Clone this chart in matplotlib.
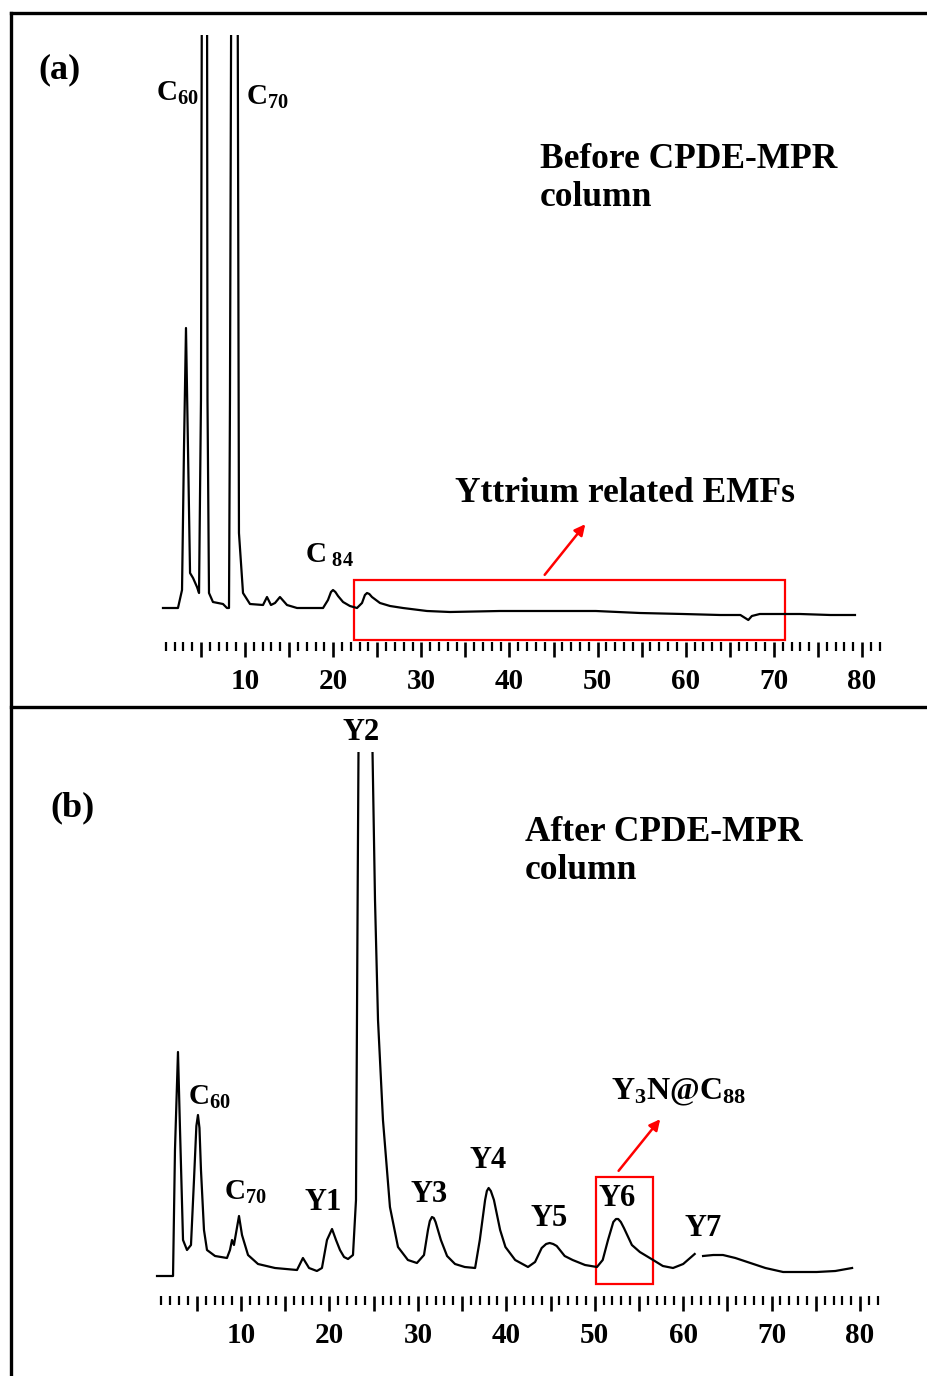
import matplotlib
matplotlib.use('Agg')
import matplotlib.pyplot as plt
from matplotlib.lines import Line2D
from matplotlib.patches import Rectangle
from matplotlib.ticker import FixedLocator, FixedFormatter
import numpy as np

# ---- data (time in min, detector signal in a.u.)
# off-scale tops of the big peaks are given above the plotted range
time_a = [0.69, 2.39, 2.85, 3.07, 3.30, 3.53, 3.76, 4.10, 4.55, 4.78, 5.00, 5.12, 5.40, 5.68,
          5.74, 5.91, 6.36, 7.50, 7.95, 8.18, 8.29, 8.46, 8.80, 9.14, 9.31, 9.77, 10.56, 12.04,
          12.49, 12.94, 13.40, 13.96, 14.76, 15.90, 18.85, 19.41, 19.75, 19.98, 20.25, 20.55,
          21.12, 21.90, 22.70, 23.27, 23.60, 23.84, 24.10, 24.40, 25.31, 26.45, 27.92, 30.64,
          33.25, 38.90, 44.60, 49.80, 54.80, 59.70, 63.90, 66.20, 67.10, 67.50, 68.40, 72.96,
          76.40, 79.20]
signal_a = [-1, -1, 17, 157, 279, 157, 34, 29, 20, 14, 207, 700, 1000, 700,
            207, 14, 5, 3, -1, -1, 207, 700, 1000, 700, 74, 14, 3, 2,
            10, 2, 4, 10, 2, -1, -1, 7, 15, 17, 15, 11,
            5, 1, -1, 4, 12, 14, 13, 10, 4, 1, -1, -4,
            -5, -4, -4, -4, -6, -7, -8, -8, -13, -9, -7, -7,
            -8, -8]

time_b = [0.50, 2.19, 2.31, 2.53, 2.87, 3.10, 3.44, 3.89, 4.34, 4.68, 4.95, 5.13, 5.30, 5.47,
          5.81, 6.15, 7.06, 8.41, 8.75, 8.98, 9.20, 9.77, 10.11, 10.79, 11.92, 13.84, 16.33,
          17.00, 17.69, 18.58, 19.15, 19.72, 20.29, 20.74, 21.19, 21.65, 22.10, 22.66, 23.00,
          23.20, 23.40, 24.00, 24.60, 24.80, 25.15, 25.49, 26.05, 26.84, 27.75, 28.87, 29.89,
          30.69, 31.14, 31.35, 31.59, 31.80, 32.00, 32.60, 33.30, 34.20, 35.30, 36.47, 37.00,
          37.60, 37.80, 38.00, 38.25, 38.60, 39.30, 39.90, 41.00, 42.45, 43.25, 44.00, 44.50,
          44.90, 45.30, 45.70, 46.60, 47.50, 48.90, 50.25, 50.90, 51.50, 52.10, 52.40, 52.65,
          52.95, 53.30, 54.20, 55.10, 56.60, 57.70, 58.85, 60.00, 61.30, 61.80, 62.25, 63.40,
          64.50, 65.90, 67.60, 69.30, 71.30, 75.10, 77.20, 79.10]
signal_b = [0, 0, 0, 126, 224, 146, 36, 26, 31, 96, 150, 161, 148, 106,
            46, 26, 20, 18, 26, 36, 31, 60, 41, 21, 12, 8, 6,
            18, 8, 5, 8, 36, 47, 36, 26, 19, 17, 21, 76,
            400, 700, 1000, 700, 560, 376, 256, 156, 69, 29, 16, 13,
            21, 46, 55, 59, 58, 54, 36, 20, 12, 9, 8, 36,
            76, 85, 88, 85, 76, 46, 29, 16, 9, 14, 28, 32,
            33, 32, 30, 20, 16, 11, 9, 16, 36, 54, 57, 57,
            54, 48, 31, 24, 16, 10, 8, 12, 22, np.nan, 20, 21,
            21, 18, 13, 8, 4, 4, 5, 8]

major_ticks = list(range(5, 81, 5))
tick_labels = [str(t) if t % 10 == 0 else '' for t in major_ticks]
minor_ticks = list(range(1, 83))

plt.rcParams['font.family'] = ['Liberation Serif', 'DejaVu Serif']
plt.rcParams['font.weight'] = 'bold'
plt.rcParams['mathtext.fontset'] = 'custom'
plt.rcParams['mathtext.rm'] = 'Liberation Serif:bold'
plt.rcParams['mathtext.bf'] = 'Liberation Serif:bold'
plt.rcParams['mathtext.it'] = 'Liberation Serif:bold'

W, H = 927, 1376
fig = plt.figure(figsize=(W / 100, H / 100), dpi=100)


def fx(px):
    return px / W


def fy(py):
    return 1 - py / H


def style(ax, ylim):
    ax.set_xlim(0, 82.5)
    ax.set_ylim(ylim)
    for s in ax.spines.values():
        s.set_visible(False)
    ax.set_yticks([])
    ax.xaxis.set_major_locator(FixedLocator(major_ticks))
    ax.xaxis.set_major_formatter(FixedFormatter(tick_labels))
    ax.xaxis.set_minor_locator(FixedLocator(minor_ticks))
    ax.tick_params(axis='x', which='major', length=11, width=1.9, direction='out',
                   pad=8, labelsize=21, color='black')
    ax.tick_params(axis='x', which='minor', length=6.5, width=1.6, direction='out')
    for lab in ax.get_xticklabels():
        lab.set_fontweight('bold')


ax_a = fig.add_axes([fx(156.9), fy(642), 82.5 * 8.814 / W, (642 - 35) / H])
ax_b = fig.add_axes([fx(152.6), fy(1296), 82.5 * 8.843 / W, (1296 - 752) / H])

# ---- panel (a)
style(ax_a, (-35, 572))
ax_a.plot(time_a, signal_a, color='black', lw=1.6)
ax_a.add_patch(Rectangle((22.36, -33), 48.9, 60, fill=False, ec='red', lw=1.6))
ax_a.annotate('', xy=(48.8, 85), xytext=(43.8, 30),
              arrowprops=dict(arrowstyle='-|>', color='red', lw=1.8, mutation_scale=16))
ax_a.text(2.3, 514, r'$\mathbf{C_{60}}$', fontsize=21, ha='center', va='center')
ax_a.text(12.5, 510, r'$\mathbf{C_{70}}$', fontsize=21, ha='center', va='center')
ax_a.text(19.6, 52, r'$\mathbf{C_{\ 84}}$', fontsize=21, ha='center', va='center')
ax_a.text(53.1, 114, 'Yttrium related EMFs', fontsize=25.5, fontweight='bold',
          ha='center', va='center')

# ---- panel (b)
style(ax_b, (-20, 524))
ax_b.plot(time_b, signal_b, color='black', lw=1.6)
ax_b.add_patch(Rectangle((50.14, -8), 6.46, 107, fill=False, ec='red', lw=1.6))
ax_b.annotate('', xy=(57.6, 159), xytext=(52.5, 103),
              arrowprops=dict(arrowstyle='-|>', color='red', lw=1.8, mutation_scale=16))
peak_names = ['Y1', 'Y2', 'Y3', 'Y4', 'Y5', 'Y6', 'Y7']
peak_t = [19.25, 23.6, 31.26, 37.9, 44.8, 52.5, 62.2]
peak_s = [74, 544, 82, 116, 58, 77, 48]
for name, t, s in zip(peak_names, peak_t, peak_s):
    ax_b.text(t, s, name, fontsize=22, fontweight='bold', ha='center', va='center')
ax_b.text(6.4, 179, r'$\mathbf{C_{60}}$', fontsize=21, ha='center', va='center')
ax_b.text(10.45, 84, r'$\mathbf{C_{70}}$', fontsize=21, ha='center', va='center')
ax_b.text(59.5, 184, r'$\mathbf{Y_3N@C_{88}}$', fontsize=23, ha='center', va='center')

# ---- panel letters and captions
fig.text(fx(60), fy(70), '(a)', fontsize=26, fontweight='bold', ha='center', va='center')
fig.text(fx(72), fy(808), '(b)', fontsize=26, fontweight='bold', ha='center', va='center')
fig.text(fx(540), fy(179), 'Before CPDE-MPR\ncolumn', fontsize=25.5, fontweight='bold',
         ha='left', va='center', linespacing=1.2)
fig.text(fx(525), fy(851), 'After CPDE-MPR\ncolumn', fontsize=25.5, fontweight='bold',
         ha='left', va='center', linespacing=1.2)

# ---- frame lines of the original figure
fig.add_artist(Line2D([fx(11), 1], [fy(13), fy(13)], color='black', lw=2.4))
fig.add_artist(Line2D([fx(11), 1], [fy(707), fy(707)], color='black', lw=2.4))
fig.add_artist(Line2D([fx(11), fx(11)], [fy(13), 0], color='black', lw=2.4))

fig.savefig('out.png', dpi=100)
